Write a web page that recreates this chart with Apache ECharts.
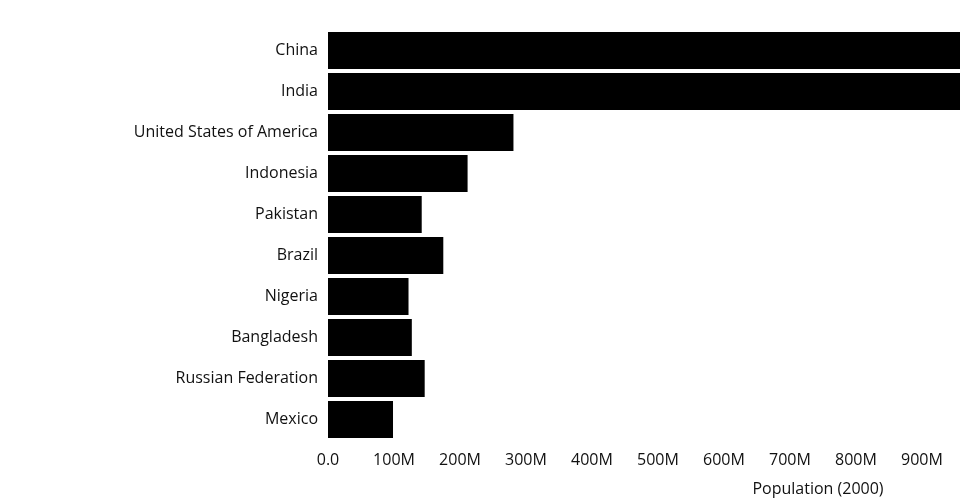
<!DOCTYPE html>
<html>
<head>
<meta charset="utf-8">
<script src="https://cdn.jsdelivr.net/npm/echarts@6/dist/echarts.min.js"></script>
<style>
  html, body { margin: 0; padding: 0; background: #fff; }
  #main { width: 960px; height: 500px; }
</style>
</head>
<body>
<div id="main"></div>
<script>
// countries, top to bottom
var countries = ['China', 'India', 'United States of America', 'Indonesia', 'Pakistan',
  'Brazil', 'Nigeria', 'Bangladesh', 'Russian Federation', 'Mexico'];
// population in 2000
var population = [1264000000, 1053000000, 281000000, 211500000, 142000000,
  174700000, 122000000, 127000000, 146500000, 98500000];
var tickStep = 100000000;

var myChart = echarts.init(document.getElementById('main'));

function fmt (v) {
  if (v === 0) return '0.0';
  return Math.round(v / 1e6) + 'M';
}

var option = {
  animation: false,
  textStyle: { fontFamily: 'Open Sans' },
  grid: { left: 328, right: 0, top: 30, bottom: 60, outerBoundsMode: 'none', containLabel: false },
  xAxis: {
    type: 'value',
    min: 0,
    max: 957600000,
    interval: tickStep,
    name: 'Population (2000)',
    nameLocation: 'middle',
    nameGap: 41,
    nameTextStyle: { color: '#111', fontSize: 16, padding: [0, 0, 0, 348] },
    axisLine: { show: false },
    axisTick: { show: false },
    splitLine: { show: false },
    axisLabel: {
      color: '#111', fontSize: 16, margin: 12,
      showMaxLabel: false,
      formatter: fmt
    }
  },
  yAxis: {
    type: 'category',
    inverse: true,
    data: countries,
    axisLine: { show: false },
    axisTick: { show: false },
    axisLabel: { color: '#111', fontSize: 16, margin: 10, padding: [2, 0, 0, 0] }
  },
  series: [{
    type: 'bar',
    data: population,
    barCategoryGap: '10%',
    clip: true,
    itemStyle: { color: '#000' }
  }]
};

myChart.setOption(option);
</script>
</body>
</html>
